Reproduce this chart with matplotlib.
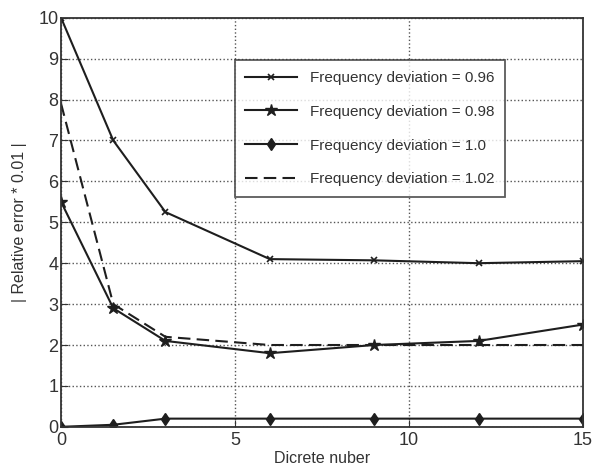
import matplotlib
matplotlib.use('Agg')
import matplotlib.pyplot as plt

plt.rcParams['font.family'] = ['Liberation Sans', 'DejaVu Sans']

# Discrete number axis and relative error for each frequency deviation
discrete_n = [0, 1.5, 3, 6, 9, 12, 15]
err_096 = [10.0, 7.0, 5.25, 4.1, 4.07, 4.0, 4.05]
err_098 = [5.5, 2.9, 2.1, 1.8, 2.0, 2.1, 2.5]
err_100 = [0.0, 0.05, 0.2, 0.2, 0.2, 0.2, 0.2]
err_102 = [7.9, 3.0, 2.2, 2.0, 2.0, 2.0, 2.0]
labels = ['Frequency deviation = 0.96', 'Frequency deviation = 0.98',
          'Frequency deviation = 1.0', 'Frequency deviation = 1.02']

fig = plt.figure(figsize=(5.93, 4.68), dpi=100)
ax = fig.add_axes([0.103, 0.088, 0.880, 0.874])

lc = '#1e1e1e'
ax.plot(discrete_n, err_096, color=lc, lw=1.5, marker='x', ms=5, mew=1.2, label=labels[0])
ax.plot(discrete_n, err_098, color=lc, lw=1.5, marker='*', ms=9, label=labels[1])
ax.plot(discrete_n, err_100, color=lc, lw=1.5, marker='d', ms=6, label=labels[2])
ax.plot(discrete_n, err_102, color=lc, lw=1.5, ls=(0, (6, 3)), label=labels[3])

ax.set_xlim(0, 15)
ax.set_ylim(0, 10)
ax.set_xticks([0, 5, 10, 15])
ax.set_yticks(range(11))
ax.grid(True, ls=':', color='#555555', lw=1.0)
ax.tick_params(direction='in', labelsize=13, colors='#333333', length=5)
ax.tick_params(axis='y', pad=2)
ax.tick_params(axis='x', pad=4)
for s in ax.spines.values():
    s.set_color('#333333')
    s.set_linewidth(1.3)

ax.set_xlabel('Dicrete nuber', fontsize=11.5, color='#333333', labelpad=1)
ax.set_ylabel('| Relative error * 0.01 |', fontsize=11.5, color='#333333', labelpad=8)

leg = ax.legend(loc='upper left', bbox_to_anchor=(0.318, 0.915), fontsize=11,
                frameon=True, fancybox=False, edgecolor='#333333',
                handlelength=3.4, labelspacing=1.3, borderpad=0.7)
leg.get_frame().set_linewidth(1.3)
for t in leg.get_texts():
    t.set_color('#333333')

fig.savefig('out.png', dpi=100)
